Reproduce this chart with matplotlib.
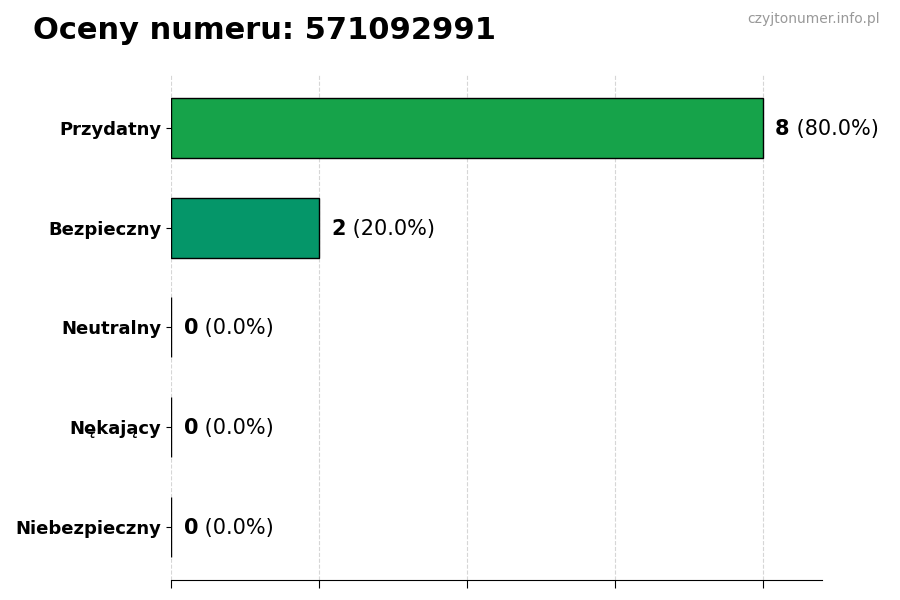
import matplotlib
matplotlib.use("Agg")
import matplotlib.pyplot as plt

# dane
numer = "571092991"
kategorie = ["Przydatny", "Bezpieczny", "Neutralny", "Nękający", "Niebezpieczny"]
liczby = [8, 2, 0, 0, 0]
kolory = ["#16a34a", "#059669", "#6b7280", "#f97316", "#dc2626"]

suma = sum(liczby)
procenty = [100.0 * n / suma for n in liczby]

fig = plt.figure(figsize=(9, 6), dpi=100)
ax = fig.add_axes([0.19, 0.0333, 0.723, 0.842])

pozycje = list(range(len(kategorie)))[::-1]
ax.barh(pozycje, liczby, height=0.6, color=kolory, edgecolor="black", linewidth=1)

ax.set_yticks(pozycje)
ax.set_yticklabels(kategorie, fontsize=13, fontweight="bold")
ax.set_xlim(0, max(liczby) * 1.1)
ax.set_xticks([0, 2, 4, 6, 8])
ax.set_xticklabels([])
ax.tick_params(axis="x", length=6)
ax.grid(axis="x", linestyle="--", color="#cccccc", alpha=0.8)
ax.set_axisbelow(True)
for s in ["top", "right", "left"]:
    ax.spines[s].set_visible(False)

# etykiety: liczba pogrubiona + procent
for y, n, p in zip(pozycje, liczby, procenty):
    t = ax.text(n + 0.17, y - 0.01, str(n), fontsize=15, fontweight="bold", va="center", ha="left")
    ax.annotate(f" ({p:.1f}%)", xy=(1, 0), xycoords=t, va="bottom", ha="left", fontsize=15)

fig.text(0.037, 0.949, f"Oceny numeru: {numer}", fontsize=22, fontweight="bold", va="center")
fig.text(0.978, 0.969, "czyjtonumer.info.pl", fontsize=10, color="#999999", ha="right", va="center")

fig.savefig("out.png", dpi=100)
